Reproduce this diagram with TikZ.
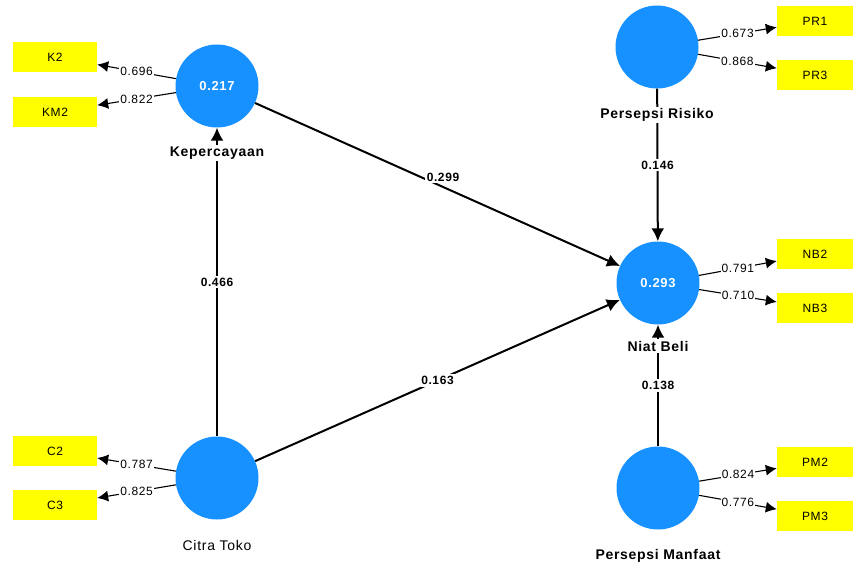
\documentclass[tikz,border=0pt]{standalone}
\usepackage{fontspec}
\setmainfont[LetterSpace=5]{Liberation Sans}
\usetikzlibrary{arrows.meta}
\definecolor{lvblue}{RGB}{22,145,255}
\definecolor{mvyellow}{RGB}{255,255,0}

\begin{document}
\begin{tikzpicture}[x=1pt, y=-1pt, >={Latex[length=11pt,width=11pt]},
      lv/.style={circle, fill=lvblue, minimum size=83pt, inner sep=0pt, text=white,
                 font=\fontsize{13}{15}\selectfont\bfseries},
      mv/.style={fill=mvyellow, minimum height=30pt, inner sep=0pt, font=\fontsize{12}{14}\selectfont},
      mvl/.style={mv, minimum width=84pt},
      mvr/.style={mv, minimum width=76pt},
      lvname/.style={fill=white, inner sep=1.5pt, font=\fontsize{14}{16}\selectfont\bfseries},
      load/.style={->, line width=1.1pt},
      struct/.style={->, line width=2pt, >={Latex[length=13pt,width=13pt]}},
      ldlbl/.style={fill=white, inner sep=1pt, font=\fontsize{12}{14}\selectfont},
      coef/.style={fill=white, inner sep=2pt, font=\fontsize{12}{14}\selectfont\bfseries}]
    \useasboundingbox (0,0) rectangle (854,567);

    % latent variables
    \node[lv] (kep)  at (217,86)  {0.217};
    \node[lv] (pr)   at (657,47)  {};
    \node[lv] (nb)   at (658,283) {0.293};
    \node[lv] (ct)   at (217,478) {};
    \node[lv] (pm)   at (658,488) {};

    % indicators
    \node[mvl] (k2)  at (55,57)   {K2};
    \node[mvl] (km2) at (55,112)  {KM2};
    \node[mvl] (c2)  at (55,451)  {C2};
    \node[mvl] (c3)  at (55,505)  {C3};
    \node[mvr] (pr1) at (815,21)  {PR1};
    \node[mvr] (pr3) at (815,75)  {PR3};
    \node[mvr] (nb2) at (815,254) {NB2};
    \node[mvr] (nb3) at (815,308) {NB3};
    \node[mvr] (pm2) at (815,462) {PM2};
    \node[mvr] (pm3) at (815,516) {PM3};

    % outer loadings
    \draw[load] (kep) -- node[ldlbl]{0.696} (k2);
    \draw[load] (kep) -- node[ldlbl]{0.822} (km2);
    \draw[load] (ct)  -- node[ldlbl]{0.787} (c2);
    \draw[load] (ct)  -- node[ldlbl]{0.825} (c3);
    \draw[load] (pr)  -- node[ldlbl]{0.673} (pr1);
    \draw[load] (pr)  -- node[ldlbl]{0.868} (pr3);
    \draw[load] (nb)  -- node[ldlbl]{0.791} (nb2);
    \draw[load] (nb)  -- node[ldlbl]{0.710} (nb3);
    \draw[load] (pm)  -- node[ldlbl]{0.824} (pm2);
    \draw[load] (pm)  -- node[ldlbl]{0.776} (pm3);

    % inner model
    \draw[struct] (kep) -- node[coef, xshift=5.5pt, yshift=7.5pt]{0.299} (nb);
    \draw[struct] (ct)  -- node[coef]{0.466} (kep);
    \draw[struct] (ct)  -- node[coef]{0.163} (nb);
    \draw[struct] (pr)  -- node[coef]{0.146} (nb);
    \draw[struct] (pm)  -- node[coef]{0.138} (nb);

    % names
    \node[lvname] (kepname) at (217,153) {Kepercayaan};
    \node[lvname] (prname)  at (657,115) {Persepsi Risiko};
    \node[lvname] (nbname)  at (658,346) {Niat Beli};
    \node[lvname, font=\fontsize{14}{16}\selectfont] (ctname) at (217,545) {Citra Toko};
    \node[lvname] (pmname)  at (658,556) {Persepsi Manfaat};
  \end{tikzpicture}
\end{document}
